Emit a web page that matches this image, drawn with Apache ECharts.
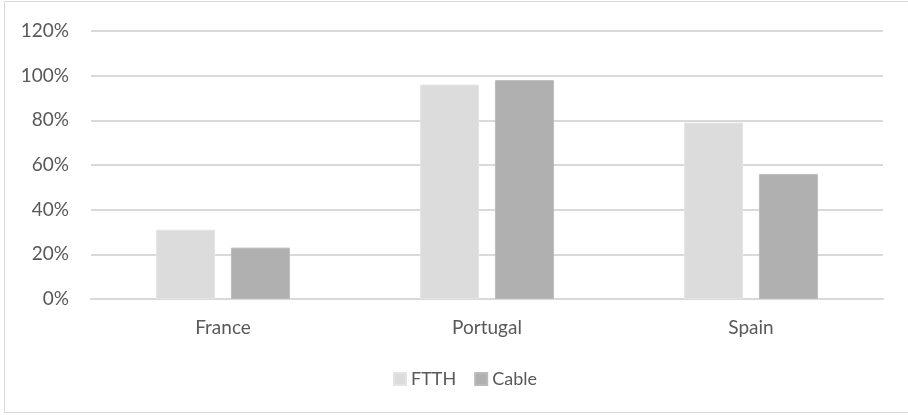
<!DOCTYPE html>
<html>
<head>
<meta charset="utf-8">
<script src="https://cdn.jsdelivr.net/npm/echarts@6/dist/echarts.min.js"></script>
<style>
  html, body { margin: 0; padding: 0; background: #fff; }
  #chart { width: 908px; height: 415px; }
</style>
</head>
<body>
<div id="chart"></div>
<script>
var countries = ['France', 'Portugal', 'Spain'];
var ftth = [31, 96, 79];
var cable = [23, 98, 56];
var yTicks = [0, 20, 40, 60, 80, 100, 120];

var FONT = 'Lato';
var TEXT = '#595959';

var chart = echarts.init(document.getElementById('chart'));
chart.setOption({
    animation: false,
    backgroundColor: '#fff',
    textStyle: {fontFamily: FONT},
    graphic: [{
        type: 'rect',
        shape: {x: 4.5, y: 1.5, width: 910, height: 411},
        style: {fill: 'none', stroke: '#d9d9d9', lineWidth: 1},
        silent: true
    }],
    legend: {
        bottom: 22,
        left: 388,
        itemWidth: 12,
        itemHeight: 12,
        itemGap: 18,
        icon: 'rect',
        textStyle: {color: TEXT, fontSize: 18, fontFamily: FONT},
        data: ['FTTH', 'Cable']
    },
    grid: {left: 91, right: 25, top: 31, bottom: 116},
    xAxis: {
        type: 'category',
        data: countries,
        axisLine: {lineStyle: {color: '#d9d9d9', width: 2}},
        axisTick: {show: false},
        axisLabel: {color: TEXT, fontSize: 19, margin: 19}
    },
    yAxis: {
        type: 'value',
        min: 0,
        max: 120,
        interval: 20,
        axisLine: {show: false},
        axisTick: {show: false},
        axisLabel: {
            color: TEXT, fontSize: 19, margin: 22,
            formatter: function (v) { return yTicks.indexOf(v) >= 0 ? v + '%' : ''; }
        },
        splitLine: {lineStyle: {color: '#d9d9d9', width: 2}}
    },
    series: [{
        name: 'FTTH',
        type: 'bar',
        data: ftth,
        barWidth: 59,
        barGap: '27%',
        itemStyle: {color: '#dcdcdc', borderColor: '#e4e4e4', borderWidth: 1}
    }, {
        name: 'Cable',
        type: 'bar',
        data: cable,
        barWidth: 59,
        itemStyle: {color: '#b0b0b0', borderColor: '#bababa', borderWidth: 1}
    }]
});
</script>
</body>
</html>
